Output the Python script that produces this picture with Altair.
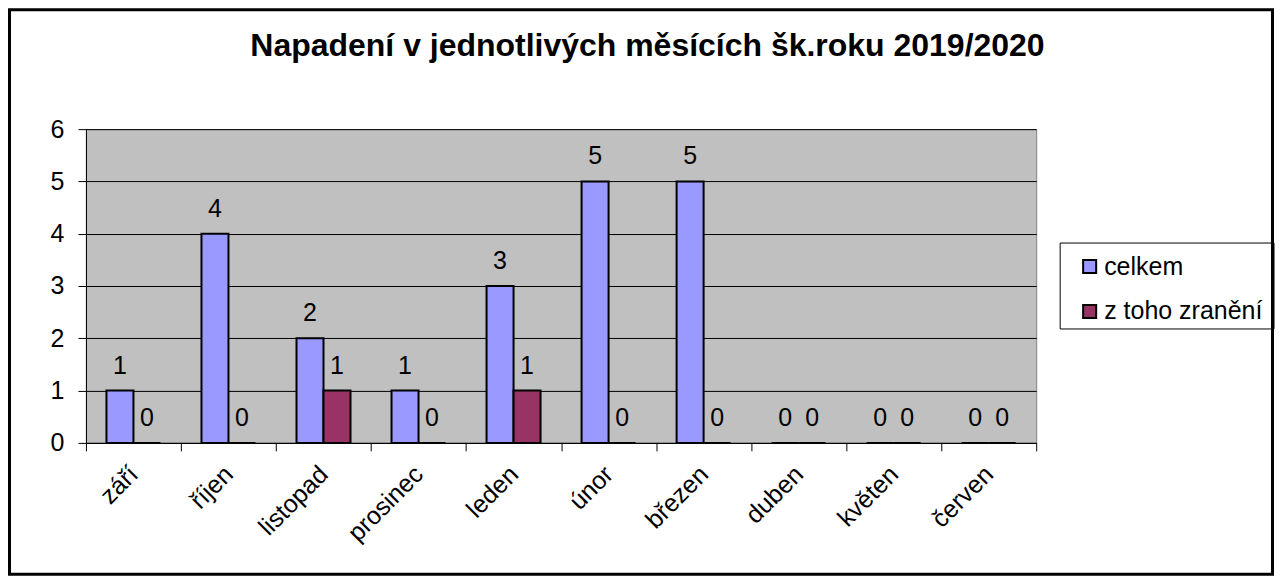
import altair as alt
import pandas as pd

months = ["září", "říjen", "listopad", "prosinec", "leden", "únor", "březen", "duben", "květen", "červen"]
celkem = [1, 4, 2, 1, 3, 5, 5, 0, 0, 0]
zraneni = [0, 0, 1, 0, 1, 0, 0, 0, 0, 0]
series = ["celkem", "z toho zranění"]
colors = ["#9999FF", "#993366"]
title_text = "Napadení v jednotlivých měsících šk.roku 2019/2020"

rows = []
for m, a, b in zip(months, celkem, zraneni):
    rows.append({"mesic": m, "serie": series[0], "hodnota": a})
    rows.append({"mesic": m, "serie": series[1], "hodnota": b})
df = pd.DataFrame(rows)

FONT = "Liberation Sans"
FS = 25
W, H = 951, 314

x = alt.X("mesic:N", sort=months, title=None,
          scale=alt.Scale(paddingInner=0, paddingOuter=0),
          axis=alt.Axis(labelAngle=-45, labelAlign="right", labelBaseline="middle",
                        labelFontSize=FS, labelPadding=19, tickBand="extent",
                        tickSize=8, tickColor="black", domainColor="black",
                        labelColor="black", labelFont=FONT, grid=False))
xo = alt.XOffset("serie:N", sort=series,
                 scale=alt.Scale(domain=series, paddingInner=0, paddingOuter=0.76))
y = alt.Y("hodnota:Q", title=None,
          scale=alt.Scale(domain=[0, 6], nice=False),
          axis=alt.Axis(values=[0, 1, 2, 3, 4, 5, 6], format="d", labelFontSize=FS,
                        labelPadding=14, tickSize=8, tickColor="black",
                        domainColor="black", gridColor="black", gridOpacity=1,
                        labelColor="black", labelFont=FONT, grid=True))

base = alt.Chart(df)

bars = base.mark_bar(stroke="black", strokeWidth=2).encode(
    x=x, xOffset=xo, y=y,
    color=alt.Color("serie:N", sort=series,
                    scale=alt.Scale(domain=series, range=colors),
                    legend=alt.Legend(title=None, orient="none", legendX=992, legendY=125,
                                      symbolType="square", symbolSize=170,
                                      symbolStrokeColor="black", symbolStrokeWidth=2,
                                      labelFontSize=FS, labelFont=FONT, labelColor="black",
                                      labelOffset=2, rowPadding=19, zindex=2))
)

labels = base.mark_text(fontSize=FS, font=FONT, color="black", dy=-25, baseline="middle").encode(
    x=x, xOffset=xo, y=y, text=alt.Text("hodnota:Q", format="d")
)

one = pd.DataFrame({"t": [title_text]})
title = alt.Chart(one).mark_text(fontSize=32, font=FONT, fontWeight="bold", color="black",
                                 align="center", baseline="middle").encode(
    x=alt.value(562), y=alt.value(-83), text="t:N"
)

frame = alt.Chart(one).mark_rect(fill=None, stroke="black", strokeWidth=3).encode(
    x=alt.value(-76.5), x2=alt.value(1187.5), y=alt.value(-119.5), y2=alt.value(445.5)
)

legbox = alt.Chart(one).mark_rect(fill="white", stroke="black", strokeWidth=1).encode(
    x=alt.value(975), x2=alt.value(1189), y=alt.value(114), y2=alt.value(200)
)

chart = alt.layer(legbox, bars, labels, title, frame).properties(
    width=W, height=H, padding=0, background="white"
).configure_view(
    fill="#C0C0C0", stroke="#808080", strokeWidth=1
)

chart.save("out.html", embed_options={"renderer": "svg", "actions": False})
